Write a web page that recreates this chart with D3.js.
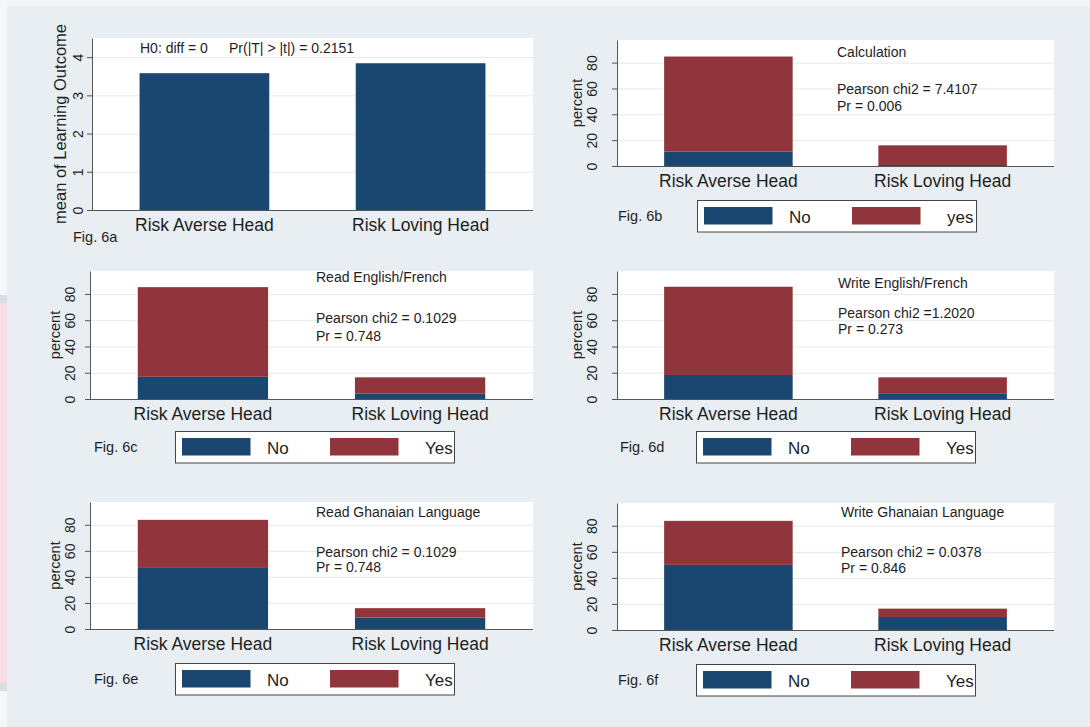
<!DOCTYPE html>
<html>
<head>
<meta charset="utf-8">
<script src="https://cdn.jsdelivr.net/npm/d3@7"></script>
<style>
  html, body { margin: 0; padding: 0; background: #e8eef1; }
  svg { display: block; font-family: "Liberation Sans", Arial, Helvetica, sans-serif; }
</style>
</head>
<body>
<svg id="chart" width="1090" height="727"></svg>
<script>
// ---- data ----------------------------------------------------------------
const groups = ["Risk Averse Head", "Risk Loving Head"];

// Fig. 6a: mean learning outcome by head's risk attitude
const outcomeMeans = [3.58, 3.84];
const meanTicks = [0, 1, 2, 3, 4];

// Figs. 6b-6f: percent of households (No / Yes) by head's risk attitude
const percentTicks = [0, 20, 40, 60, 80];
const calculationNo  = [11.1, 0.8];
const calculationYes = [73.6, 15.2];
const readEngFrNo    = [16.9, 4.3];
const readEngFrYes   = [68.3, 12.2];
const writeEngFrNo   = [18.3, 3.9];
const writeEngFrYes  = [67.2, 12.6];
const readGhanaNo    = [46.9, 8.8];
const readGhanaYes   = [36.9, 7.2];
const writeGhanaNo   = [50.0, 10.0];
const writeGhanaYes  = [33.8, 6.4];

const figLabels = ["Fig. 6a", "Fig. 6b", "Fig. 6c", "Fig. 6d", "Fig. 6e", "Fig. 6f"];
const skillTitles = ["Calculation", "Read English/French", "Write English/French",
                     "Read Ghanaian Language", "Write Ghanaian Language"];
const chiStats = ["Pearson chi2 = 7.4107", "Pearson chi2 = 0.1029", "Pearson chi2 =1.2020",
                  "Pearson chi2 = 0.1029", "Pearson chi2 = 0.0378"];
const pValues = ["Pr = 0.006", "Pr = 0.748", "Pr = 0.273", "Pr = 0.748", "Pr = 0.846"];
const legendLabelSets = [["No", "yes"], ["No", "Yes"], ["No", "Yes"], ["No", "Yes"], ["No", "Yes"]];
const tTestNote = ["H0: diff = 0", "Pr(|T| > |t|) = 0.2151"];

// ---- styling ------------------------------------------------------------
const NAVY = "#1a476f";
const MAROON = "#90353b";
const GRID = "#e4e9ec";
const AXIS = "#555";
const TEXT = "#1e1e1e";

const svg = d3.select("#chart");

// edge strips of the page
svg.append("rect").attr("x", 0).attr("y", 0).attr("width", 1090).attr("height", 6).attr("fill", "#f1f4f6");
svg.append("rect").attr("x", 0).attr("y", 0).attr("width", 7).attr("height", 727).attr("fill", "#f4f6f8");
svg.append("rect").attr("x", 0).attr("y", 295).attr("width", 7).attr("height", 396).attr("fill", "#d9dee6");
svg.append("rect").attr("x", 0).attr("y", 303).attr("width", 7).attr("height", 380).attr("fill", "#f7dde1");

// panel geometry
const layout = [
  { x0: 92,  x1: 533,  top: 38,  base: 210, tickX: 78,  titleX: 60,  figX: 73,  figY: 237 },
  { x0: 617, x1: 1054, top: 40,  base: 166, tickX: 592, titleX: 577, figX: 618, figY: 216, legX: 697, legY: 200, noteX: 837, noteY: [52, 89, 106] },
  { x0: 90,  x1: 533,  top: 271, base: 399, tickX: 70,  titleX: 55,  figX: 94,  figY: 447, legX: 175, legY: 431, noteX: 316, noteY: [277, 318, 336] },
  { x0: 617, x1: 1054, top: 271, base: 399, tickX: 592, titleX: 577, figX: 620, figY: 447, legX: 696, legY: 431, noteX: 838, noteY: [283, 313, 329] },
  { x0: 90,  x1: 533,  top: 502, base: 629, tickX: 70,  titleX: 55,  figX: 94,  figY: 679, legX: 175, legY: 663, noteX: 316, noteY: [512, 552, 567] },
  { x0: 617, x1: 1054, top: 503, base: 630, tickX: 592, titleX: 577, figX: 618, figY: 680, legX: 696, legY: 664, noteX: 841, noteY: [512, 552, 568] }
];

function frame(L, yMax, ticks, yTitle, titleSize) {
  const g = svg.append("g");
  const x = d3.scaleBand().domain(groups).range([L.x0, L.x1]).paddingInner(0.4).paddingOuter(0.22);
  const y = d3.scaleLinear().domain([0, yMax]).range([L.base, L.top]);

  g.append("rect").attr("x", L.x0).attr("y", L.top)
    .attr("width", L.x1 - L.x0).attr("height", L.base - L.top).attr("fill", "#fff");

  // horizontal grid
  const grid = g.append("g").attr("transform", `translate(${L.x0},0)`)
    .call(d3.axisLeft(y).tickValues(ticks.filter(t => t > 0)).tickSize(-(L.x1 - L.x0)).tickFormat(""));
  grid.select(".domain").remove();
  grid.selectAll("line").attr("stroke", GRID).attr("stroke-width", 1);

  const barLayer = g.append("g");

  // y axis with vertical tick labels
  const ya = g.append("g").attr("transform", `translate(${L.x0},0)`)
    .call(d3.axisLeft(y).tickValues(ticks).tickFormat(d3.format("d")).tickSize(5).tickSizeOuter(0));
  ya.select(".domain").attr("stroke", AXIS);
  ya.selectAll(".tick line").attr("stroke", AXIS);
  ya.selectAll(".tick text")
    .attr("x", null).attr("dy", "0.36em")
    .attr("transform", `translate(${L.tickX - L.x0},0) rotate(-90)`)
    .attr("text-anchor", "middle")
    .attr("fill", TEXT).attr("font-size", 14);

  // x axis with category labels
  const xa = g.append("g").attr("transform", `translate(0,${L.base})`)
    .call(d3.axisBottom(x).tickSize(0));
  xa.select(".domain").remove();
  xa.selectAll(".tick text").attr("y", 15).attr("dy", "0.36em")
    .attr("fill", TEXT).attr("font-size", 17.5);
  g.append("line").attr("x1", L.x0).attr("x2", L.x1).attr("y1", L.base + 0.5).attr("y2", L.base + 0.5)
    .attr("stroke", AXIS).attr("stroke-width", 1.2);

  g.append("text")
    .attr("transform", `translate(${L.titleX},${(L.top + L.base) / 2}) rotate(-90)`)
    .attr("text-anchor", "middle").attr("dy", "0.36em")
    .attr("font-size", titleSize).attr("fill", TEXT).text(yTitle);

  return { g, x, y, barLayer };
}

function label(g, x, y, text, size, anchor) {
  g.append("text").attr("x", x).attr("y", y).attr("dy", "0.36em")
    .attr("text-anchor", anchor || "start")
    .attr("font-size", size).attr("fill", TEXT).text(text);
}

// ---- Fig. 6a: mean of learning outcome ----------------------------------
{
  const L = layout[0];
  const p = frame(L, 4.5, meanTicks, "mean of Learning Outcome", 16.5);
  p.barLayer.selectAll("rect").data(groups).join("rect")
    .attr("x", d => p.x(d)).attr("width", p.x.bandwidth())
    .attr("y", (d, i) => p.y(outcomeMeans[i]))
    .attr("height", (d, i) => p.y(0) - p.y(outcomeMeans[i]))
    .attr("fill", NAVY);
  label(p.g, 140, 48, tTestNote[0], 14);
  label(p.g, 229, 48, tTestNote[1], 14);
  label(p.g, L.figX, L.figY, figLabels[0], 14.5);
}

// ---- Figs. 6b-6f: stacked percent bars -----------------------------------
const skillSeries = [
  [calculationNo, calculationYes],
  [readEngFrNo, readEngFrYes],
  [writeEngFrNo, writeEngFrYes],
  [readGhanaNo, readGhanaYes],
  [writeGhanaNo, writeGhanaYes]
];
const colors = [NAVY, MAROON];

skillSeries.forEach((series, k) => {
  const L = layout[k + 1];
  const p = frame(L, 97.5, percentTicks, "percent", 14.5);

  const rows = groups.map((gname, i) => ({ group: gname, No: series[0][i], Yes: series[1][i] }));
  const stacked = d3.stack().keys(["No", "Yes"])(rows);

  p.barLayer.selectAll("g").data(stacked).join("g")
    .attr("fill", (d, i) => colors[i])
    .selectAll("rect").data(d => d).join("rect")
      .attr("x", d => p.x(d.data.group))
      .attr("width", p.x.bandwidth())
      .attr("y", d => p.y(d[1]))
      .attr("height", d => p.y(d[0]) - p.y(d[1]));

  // annotation
  label(p.g, L.noteX, L.noteY[0], skillTitles[k], 14);
  label(p.g, L.noteX, L.noteY[1], chiStats[k], 14);
  label(p.g, L.noteX, L.noteY[2], pValues[k], 14);

  // legend
  const lg = p.g.append("g").attr("transform", `translate(${L.legX},${L.legY})`);
  lg.append("rect").attr("x", 0.5).attr("y", 0.5).attr("width", 279).attr("height", 31.5)
    .attr("fill", "#fff").attr("stroke", "#444").attr("stroke-width", 1);
  const names = legendLabelSets[k];
  const swX = [7, 155], txX = [92, 250];
  names.forEach((nm, i) => {
    lg.append("rect").attr("x", swX[i]).attr("y", 7).attr("width", 68.5).attr("height", 17.5).attr("fill", colors[i]);
    label(lg, txX[i], 16.5, nm, 17);
  });

  label(p.g, L.figX, L.figY, figLabels[k + 1], 14.5);
});
</script>
</body>
</html>
